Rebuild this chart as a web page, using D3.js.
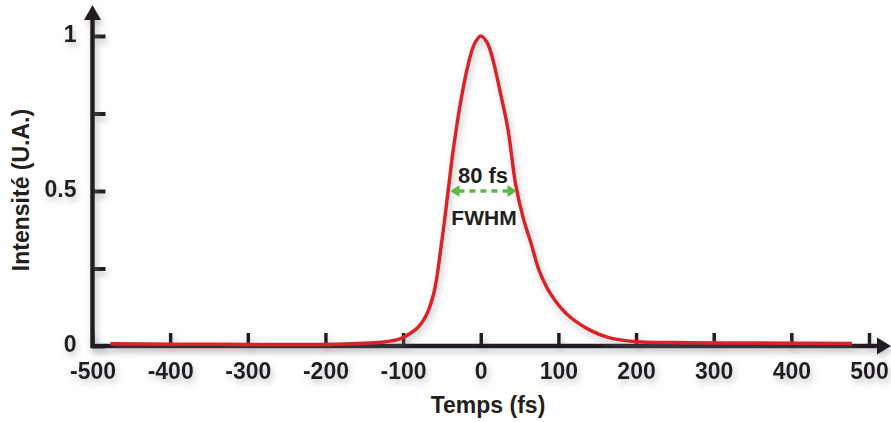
<!DOCTYPE html>
<html>
<head>
<meta charset="utf-8">
<script src="https://cdn.jsdelivr.net/npm/d3@7.9.0/dist/d3.min.js"></script>
<style>
  body { margin: 0; background: #fff; }
  svg { display: block; font-family: "Liberation Sans", Arial, sans-serif; font-weight: bold; }
</style>
</head>
<body>
<svg id="chart"></svg>
<script>
// pulse profile (time in fs, normalised intensity)
const timeFs = [-477, -400, -300, -200, -150, -125, -105, -90, -80, -70, -60, -50, -42, -35, -25, -15, -8, 0,
                8, 15, 25, 35, 45, 55, 65, 75, 90, 110, 140, 165, 200, 250, 300, 400, 478];
const intensity = [0.007, 0.006, 0.005, 0.005, 0.009, 0.013, 0.022, 0.042, 0.062, 0.1, 0.175, 0.34, 0.5, 0.64, 0.8, 0.92, 0.975, 1.0,
                   0.98, 0.93, 0.82, 0.7, 0.52, 0.41, 0.33, 0.245, 0.168, 0.105, 0.052, 0.027, 0.014, 0.011, 0.01, 0.009, 0.008];

const xTicks = [-500, -400, -300, -200, -100, 0, 100, 200, 300, 400, 500];
const yTicks = [0, 0.25, 0.5, 0.75, 1];
const yTickLabels = {0: '0', 0.5: '0.5', 1: '1'};

// FWHM marker: left / right half-max points
const fwhmEnds = [-39, 46];
const fwhmLevel = 0.5;

const width = 891;
const height = 422;
const ink = '#231f20';
const red = '#dc2128';
const green = '#5cb947';
const font = '"Liberation Sans", Arial, sans-serif';

const svg = d3.select('#chart')
    .attr('width', width)
    .attr('height', height);

// soft grey shadow like the original artwork
const defs = svg.append('defs');
const shadow = defs.append('filter')
    .attr('id', 'shadow')
    .attr('x', '-20%').attr('y', '-20%')
    .attr('width', '140%').attr('height', '140%');
shadow.append('feDropShadow')
    .attr('dx', 2).attr('dy', 4)
    .attr('stdDeviation', 3)
    .attr('flood-color', '#8a8d94')
    .attr('flood-opacity', 0.5);

const x = d3.scaleLinear()
    .domain([-500, 500])
    .range([92.5, 869]);

const y = d3.scaleLinear()
    .domain([0, 1])
    .range([346, 36]);

// x axis
const xAxis = svg.append('g')
    .attr('transform', `translate(0, ${y(0)})`)
    .attr('filter', 'url(#shadow)')
    .call(d3.axisBottom(x)
        .tickValues(xTicks)
        .tickSize(-13)
        .tickPadding(17)
        .tickFormat(d => String(d)));
xAxis.select('.domain').remove();
xAxis.selectAll('.tick line')
    .attr('stroke', ink)
    .attr('stroke-width', 3.5);
xAxis.selectAll('.tick text')
    .attr('fill', ink)
    .attr('font-size', 23)
    .attr('font-family', font)
    .attr('font-weight', 'bold');

// y axis
const yAxis = svg.append('g')
    .attr('transform', `translate(${x(-500)}, 0)`)
    .attr('filter', 'url(#shadow)')
    .call(d3.axisLeft(y)
        .tickValues(yTicks)
        .tickSize(-13)
        .tickPadding(16)
        .tickFormat(d => yTickLabels[d] || ''));
yAxis.select('.domain').remove();
yAxis.selectAll('.tick line')
    .attr('stroke', ink)
    .attr('stroke-width', 4);
yAxis.selectAll('.tick text')
    .attr('fill', ink)
    .attr('font-size', 23)
    .attr('dy', '0.25em')
    .attr('font-family', font)
    .attr('font-weight', 'bold');

// axis lines with arrow heads
const axes = svg.append('g').attr('filter', 'url(#shadow)');
axes.append('line')
    .attr('x1', x(-500)).attr('x2', 879)
    .attr('y1', y(0)).attr('y2', y(0))
    .attr('stroke', ink).attr('stroke-width', 4.5);
axes.append('path')
    .attr('d', `M877,${y(0) - 8.5}L891,${y(0)}L877,${y(0) + 8.5}Z`)
    .attr('fill', ink);
axes.append('line')
    .attr('x1', x(-500)).attr('x2', x(-500))
    .attr('y1', y(0) + 2.25).attr('y2', 18)
    .attr('stroke', ink).attr('stroke-width', 4.5);
axes.append('path')
    .attr('d', `M${x(-500) - 8.5},20L${x(-500)},5L${x(-500) + 8.5},20Z`)
    .attr('fill', ink);

// the pulse
const line = d3.line()
    .x((d, i) => x(timeFs[i]))
    .y(d => y(d))
    .curve(d3.curveCatmullRom.alpha(0.5));

svg.append('path')
    .datum(intensity)
    .attr('d', line)
    .attr('fill', 'none')
    .attr('stroke', red)
    .attr('stroke-width', 3.5)
    .attr('stroke-linejoin', 'round')
    .attr('filter', 'url(#shadow)');

// FWHM double arrow
const fw = svg.append('g');
const fy = y(fwhmLevel);
fw.append('line')
    .attr('x1', x(fwhmEnds[0]) + 8).attr('x2', x(fwhmEnds[1]) - 8)
    .attr('y1', fy).attr('y2', fy)
    .attr('stroke', green)
    .attr('stroke-width', 3.5)
    .attr('stroke-dasharray', '6,5');
fw.append('path')
    .attr('d', `M${x(fwhmEnds[0])},${fy}l9,-6v12Z`)
    .attr('fill', green);
fw.append('path')
    .attr('d', `M${x(fwhmEnds[1])},${fy}l-9,-6v12Z`)
    .attr('fill', green);

svg.append('text')
    .attr('x', 483).attr('y', 183)
    .attr('text-anchor', 'middle')
    .attr('font-size', 22)
    .attr('fill', ink)
    .text('80 fs');

svg.append('text')
    .attr('x', 484).attr('y', 225)
    .attr('text-anchor', 'middle')
    .attr('font-size', 21)
    .attr('fill', ink)
    .text('FWHM');

// axis titles
svg.append('text')
    .attr('x', 488).attr('y', 413)
    .attr('text-anchor', 'middle')
    .attr('font-size', 23)
    .attr('fill', ink)
    .text('Temps (fs)');

svg.append('text')
    .attr('transform', 'translate(29, 190) rotate(-90)')
    .attr('text-anchor', 'middle')
    .attr('font-size', 23)
    .attr('fill', ink)
    .text('Intensité (U.A.)');
</script>
</body>
</html>
